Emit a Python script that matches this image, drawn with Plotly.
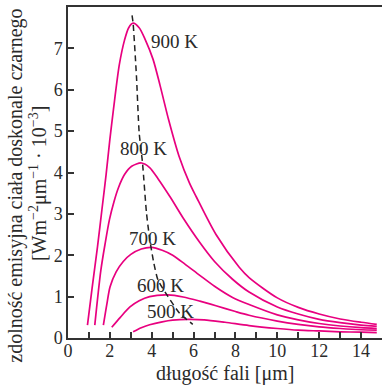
import plotly.graph_objects as go

# wavelength [um] and emissive power [W m^-2 um^-1 * 10^-3]
x900 = [0.93, 1.15, 1.41, 1.62, 1.82, 2.0, 2.17, 2.45, 2.7, 2.9, 3.11, 3.4, 3.7, 4.06, 4.4, 4.82, 5.3, 5.8, 6.12, 7.07, 8.18, 8.65, 10, 11, 12, 13, 14, 14.75]
y900 = [0.31, 1.2, 2.21, 3.1, 3.95, 4.8, 5.52, 6.6, 7.2, 7.5, 7.61, 7.5, 7.2, 6.74, 6.1, 5.25, 4.4, 3.75, 3.42, 2.5, 1.71, 1.46, 0.97, 0.74, 0.58, 0.46, 0.38, 0.33]

x800 = [1.28, 1.57, 1.78, 1.98, 2.2, 2.4, 2.7, 3.04, 3.51, 3.9, 4.3, 4.89, 5.5, 6.28, 7.0, 7.86, 8.65, 10, 11, 12, 13, 14, 14.75]
y800 = [0.31, 1.64, 2.3, 2.86, 3.3, 3.62, 3.95, 4.15, 4.23, 4.12, 3.85, 3.4, 2.9, 2.32, 1.85, 1.42, 1.11, 0.75, 0.58, 0.45, 0.37, 0.31, 0.28]

x700 = [1.69, 1.85, 2.01, 2.3, 2.64, 3.0, 3.5, 3.99, 4.5, 5.0, 5.6, 6.28, 7.0, 7.86, 8.65, 10, 11, 12, 13, 14, 14.75]
y700 = [0.31, 0.8, 1.24, 1.6, 1.85, 2.02, 2.15, 2.19, 2.12, 2.0, 1.78, 1.52, 1.25, 0.98, 0.81, 0.56, 0.44, 0.35, 0.29, 0.25, 0.23]

x600 = [2.09, 2.5, 2.96, 3.4, 3.9, 4.78, 5.5, 6.3, 7.07, 8.0, 8.65, 10, 11, 12, 13, 14, 14.75]
y600 = [0.26, 0.5, 0.75, 0.9, 1.0, 1.04, 0.99, 0.89, 0.78, 0.64, 0.55, 0.41, 0.33, 0.27, 0.23, 0.2, 0.19]

x500 = [3.11, 3.5, 3.9, 4.5, 5.0, 5.73, 6.5, 7.5, 8.65, 10, 11, 12, 13, 14, 14.75]
y500 = [0.15, 0.25, 0.32, 0.39, 0.43, 0.45, 0.44, 0.38, 0.3, 0.23, 0.19, 0.17, 0.15, 0.14, 0.13]

# peak locus (dashed)
xpeak = [3.06, 3.11, 3.27, 3.4, 3.56, 3.75, 3.91, 4.1, 4.3, 4.78, 5.33, 5.96]
ypeak = [7.8, 7.61, 6.33, 4.96, 4.23, 3.02, 2.37, 1.81, 1.40, 1.0, 0.6, 0.33]

labels = ["900 K", "800 K", "700 K", "600 K", "500 K"]
label_x = [5.1, 3.59, 4.06, 4.43, 4.9]
label_y = [7.17, 4.58, 2.41, 1.26, 0.63]

xtick_vals = list(range(0, 15))
xtick_text = ["0", "", "2", "", "4", "", "6", "", "8", "", "10", "", "12", "", "14"]
ytick_vals = [0, 1, 2, 3, 4, 5, 6, 7]

FONT = "Liberation Serif"
MAG = "#E8007F"
TXT = "#2a2a2a"

fig = go.Figure()
for xs, ys in [(x900, y900), (x800, y800), (x700, y700), (x600, y600), (x500, y500)]:
    fig.add_trace(go.Scatter(x=xs, y=ys, mode="lines",
                             line=dict(color=MAG, width=1.7, shape="spline", smoothing=0.8),
                             hoverinfo="skip", showlegend=False))
fig.add_trace(go.Scatter(x=xpeak, y=ypeak, mode="lines",
                         line=dict(color="#222", width=1.5, dash="6px,4px", shape="spline", smoothing=0.6),
                         hoverinfo="skip", showlegend=False))

for t, lx, ly in zip(labels, label_x, label_y):
    fig.add_annotation(x=lx, y=ly, text=t, showarrow=False,
                       font=dict(family=FONT, size=19, color=TXT))

fig.add_annotation(xref="paper", yref="paper", x=0, y=0.46, xshift=-52,
                   xanchor="center", yanchor="middle",
                   text="zdolność emisyjna ciała doskonale czarnego", textangle=-90,
                   showarrow=False, font=dict(family=FONT, size=20, color=TXT))
fig.add_annotation(xref="paper", yref="paper", x=0, y=0.465, xshift=-30,
                   xanchor="center", yanchor="middle",
                   text="[Wm<sup>−2</sup>μm<sup>−1</sup> · 10<sup>−3</sup>]", textangle=-90,
                   showarrow=False, font=dict(family=FONT, size=20, color=TXT))
fig.add_annotation(xref="paper", yref="paper", x=0.5, y=0, yshift=-35,
                   xanchor="center", yanchor="middle",
                   text="długość fali [μm]", showarrow=False,
                   font=dict(family=FONT, size=20, color=TXT))

fig.update_layout(
    width=382, height=385,
    margin=dict(l=68, r=0, t=7, b=47, autoexpand=False),
    plot_bgcolor="white", paper_bgcolor="white",
    font=dict(family=FONT, size=18, color=TXT),
    xaxis=dict(range=[0, 15], tickvals=xtick_vals, ticktext=xtick_text,
               ticks="inside", ticklen=6, tickwidth=1.5, tickcolor="#333",
               showline=True, linecolor="#333", linewidth=1.5, mirror=True,
               showgrid=False, zeroline=False, automargin=False,
               ticklabelstandoff=-4,
               tickfont=dict(family=FONT, size=18, color=TXT)),
    yaxis=dict(range=[0, 8], tickvals=ytick_vals,
               ticks="inside", ticklen=6, tickwidth=1.5, tickcolor="#333",
               showline=True, linecolor="#333", linewidth=1.5, mirror=False,
               showgrid=False, zeroline=False, automargin=False,
               tickfont=dict(family=FONT, size=18, color=TXT)),
)

fig.write_html("out.html", config={"displayModeBar": False},
               post_script="document.body.style.margin='0';document.body.style.overflow='hidden';")
